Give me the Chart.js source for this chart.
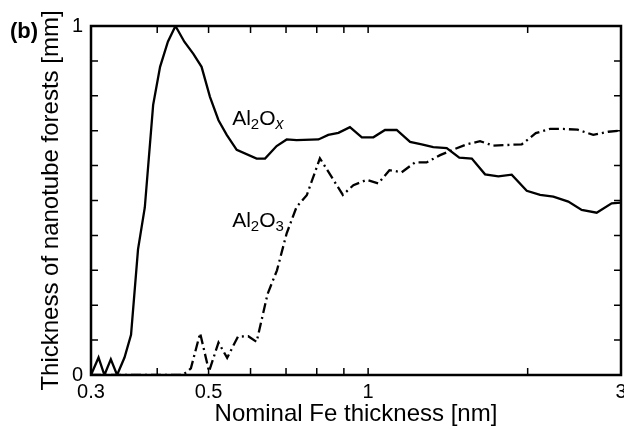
<!DOCTYPE html>
<html>
<head>
<meta charset="utf-8">
<script src="https://cdn.jsdelivr.net/npm/chart.js@4.4.0/dist/chart.umd.min.js"></script>
<style>
html, body { margin: 0; padding: 0; background: #fff; }
</style>
</head>
<body>
<canvas id="chartCanvas" width="624" height="429"></canvas>
<script>
// Al2Ox curve (solid)
var oxX = [0.3, 0.31, 0.318, 0.327, 0.336, 0.347, 0.357, 0.368, 0.379, 0.393,
           0.405, 0.419, 0.433, 0.45, 0.468, 0.485, 0.503, 0.522, 0.541, 0.565,
           0.616, 0.639, 0.672, 0.702, 0.733, 0.806, 0.841, 0.879, 0.924, 0.973,
           1.023, 1.076, 1.132, 1.2, 1.262, 1.327, 1.407, 1.486, 1.569, 1.662,
           1.761, 1.866, 1.992, 2.111, 2.236, 2.386, 2.529, 2.699, 2.881, 3.0];
var oxY = [0, 0.05, 0, 0.045, 0, 0.05, 0.115, 0.36, 0.48, 0.774,
           0.883, 0.955, 1.0, 0.955, 0.92, 0.883, 0.797, 0.73, 0.688, 0.645,
           0.62, 0.62, 0.656, 0.675, 0.673, 0.675, 0.688, 0.694, 0.71, 0.681,
           0.681, 0.702, 0.702, 0.668, 0.661, 0.653, 0.65, 0.623, 0.62, 0.575,
           0.569, 0.574, 0.528, 0.516, 0.511, 0.497, 0.473, 0.465, 0.492, 0.494];

// Al2O3 curve (dash-dot)
var o3X = [0.3, 0.35, 0.4, 0.447, 0.463, 0.482, 0.501, 0.522, 0.542, 0.568,
           0.594, 0.616, 0.646, 0.673, 0.702, 0.733, 0.766, 0.811, 0.896, 0.938,
           0.994, 1.045, 1.097, 1.157, 1.226, 1.289, 1.367, 1.443, 1.535, 1.626,
           1.723, 1.832, 1.949, 2.072, 2.204, 2.335, 2.484, 2.659, 2.839, 3.0];
var o3Y = [0, 0, 0, 0, 0.019, 0.12, 0.01, 0.093, 0.049, 0.11,
           0.111, 0.095, 0.232, 0.3, 0.406, 0.482, 0.515, 0.621, 0.516, 0.544,
           0.559, 0.549, 0.587, 0.581, 0.609, 0.609, 0.63, 0.645, 0.661, 0.67,
           0.657, 0.659, 0.661, 0.693, 0.705, 0.705, 0.703, 0.688, 0.697, 0.70];

// axis ticks
var xTicks = [0.3, 0.4, 0.5, 0.6, 0.7, 0.8, 0.9, 1, 2, 3];
var xLabels = [0.3, 0.5, 1, 3];
var yTicks = [0, 0.1, 0.2, 0.3, 0.4, 0.5, 0.6, 0.7, 0.8, 0.9, 1];
var yLabels = [0, 1];

var FONT = '"Liberation Sans", Arial, sans-serif';

function pts(xs, ys) {
  return xs.map(function (x, i) { return {x: x, y: ys[i]}; });
}

// frame + inward tick marks on all four sides
var framePlugin = {
  id: 'frame',
  afterDatasetsDraw: function (chart) {
    var a = chart.chartArea, ctx = chart.ctx;
    var sx = chart.scales.x, sy = chart.scales.y;
    ctx.save();
    ctx.strokeStyle = '#000';
    ctx.lineWidth = 1.5;
    ctx.beginPath();
    xTicks.forEach(function (v) {
      var p = sx.getPixelForValue(v);
      ctx.moveTo(p, a.bottom); ctx.lineTo(p, a.bottom - 7);
      ctx.moveTo(p, a.top); ctx.lineTo(p, a.top + 7);
    });
    yTicks.forEach(function (v) {
      var p = sy.getPixelForValue(v);
      ctx.moveTo(a.left, p); ctx.lineTo(a.left + 7, p);
      ctx.moveTo(a.right, p); ctx.lineTo(a.right - 7, p);
    });
    ctx.stroke();
    ctx.lineWidth = 2.5;
    ctx.strokeRect(a.left, a.top, a.right - a.left, a.bottom - a.top);
    ctx.restore();
  }
};

// curve names with subscripts, and the panel letter
function richText(ctx, parts, x, y) {
  parts.forEach(function (p) {
    ctx.font = (p.it ? 'italic ' : '') + p.s + 'px ' + FONT;
    ctx.fillText(p.t, x, y + (p.dy || 0));
    x += ctx.measureText(p.t).width;
  });
}

var labelPlugin = {
  id: 'labels',
  afterDraw: function (chart) {
    var ctx = chart.ctx, sx = chart.scales.x, sy = chart.scales.y;
    ctx.save();
    ctx.fillStyle = '#000';
    ctx.textBaseline = 'alphabetic';
    ctx.textAlign = 'left';
    richText(ctx, [{t: 'Al', s: 21}, {t: '2', s: 15, dy: 4}, {t: 'O', s: 21}, {t: 'x', s: 16, dy: 4, it: true}],
      sx.getPixelForValue(0.554), sy.getPixelForValue(0.716));
    richText(ctx, [{t: 'Al', s: 21}, {t: '2', s: 15, dy: 4}, {t: 'O', s: 21}, {t: '3', s: 15, dy: 4}],
      sx.getPixelForValue(0.554), sy.getPixelForValue(0.424));
    ctx.font = 'bold 22px ' + FONT;
    ctx.fillText('(b)', 10, 38);
    ctx.restore();
  }
};

var ctx = document.getElementById('chartCanvas').getContext('2d');
var chart = new Chart(ctx, {
  type: 'line',
  data: {
    datasets: [{
      label: 'Al2Ox',
      data: pts(oxX, oxY),
      borderColor: '#000',
      borderWidth: 2.3,
      pointRadius: 0,
      tension: 0,
      fill: false
    }, {
      label: 'Al2O3',
      data: pts(o3X, o3Y),
      borderColor: '#000',
      borderWidth: 2.3,
      borderDash: [10, 4, 2, 4],
      pointRadius: 0,
      tension: 0,
      fill: false
    }]
  },
  options: {
    responsive: false,
    animation: false,
    layout: { padding: { top: 26, right: 3, bottom: 0, left: 0 } },
    plugins: { legend: { display: false }, tooltip: { enabled: false } },
    scales: {
      x: {
        type: 'logarithmic',
        min: 0.3,
        max: 3,
        afterBuildTicks: function (s) { s.ticks = xTicks.map(function (v) { return {value: v}; }); },
        afterFit: function (s) { s.height = 54; s.paddingLeft = 0; s.paddingRight = 0; },
        grid: { display: false, drawTicks: false },
        border: { display: false },
        ticks: {
          autoSkip: false, maxRotation: 0, minRotation: 0,
          color: '#000', padding: 5,
          font: { family: FONT, size: 20 },
          callback: function (v) { return xLabels.indexOf(v) >= 0 ? String(v) : ''; }
        },
        title: {
          display: true, text: 'Nominal Fe thickness [nm]', color: '#000',
          font: { family: FONT, size: 24 }, padding: 0
        }
      },
      y: {
        type: 'linear',
        min: 0,
        max: 1,
        afterBuildTicks: function (s) { s.ticks = yTicks.map(function (v) { return {value: v}; }); },
        afterFit: function (s) { s.width = 91; s.paddingTop = 0; s.paddingBottom = 0; },
        grid: { display: false, drawTicks: false },
        border: { display: false },
        ticks: {
          autoSkip: false, color: '#000', padding: 8,
          font: { family: FONT, size: 20 },
          callback: function (v) { return yLabels.indexOf(v) >= 0 ? String(v) : ''; }
        },
        title: {
          display: true, text: 'Thickness of nanotube forests [mm]', color: '#000',
          font: { family: FONT, size: 24 }, padding: { top: 37, bottom: 0 }
        }
      }
    }
  },
  plugins: [framePlugin, labelPlugin]
});
</script>
</body>
</html>
